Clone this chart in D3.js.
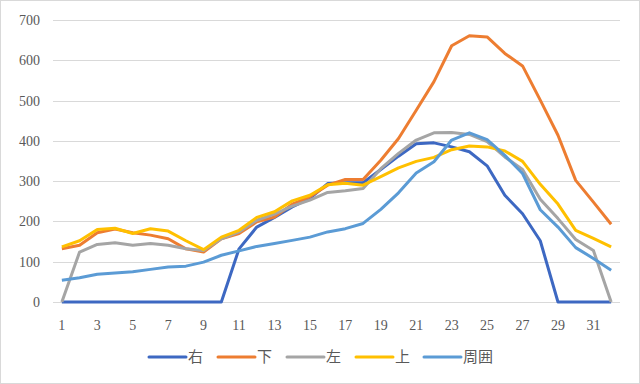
<!DOCTYPE html>
<html>
<head>
<meta charset="utf-8">
<script src="https://cdn.jsdelivr.net/npm/d3@7"></script>
<style>
  body { margin: 0; background: #fff; }
  svg text { font-family: "Liberation Serif", "DejaVu Serif", "Noto Sans CJK JP", serif; fill: #595959; }
</style>
</head>
<body>
<div id="the_chart"></div>
<script>
var days = d3.range(1, 33);
var migi =   [0,0,0,0,0,0,0,0,0,0,132,186,210,236,257,294,296,296,329,362,393,395,385,373,338,265,219,152,0,0,0,0];
var shita =  [132,141,172,181,172,166,157,132,124,157,170,199,211,243,261,290,304,304,352,406,476,547,636,661,658,617,586,501,414,302,248,193];
var hidari = [0,124,143,147,141,145,141,132,128,157,174,203,218,238,253,272,276,282,331,369,402,420,421,416,398,360,329,255,207,155,128,0];
var ue =     [137,152,180,183,170,182,176,152,130,161,178,210,224,251,265,291,295,290,311,333,349,359,378,387,385,375,349,292,243,178,158,137];
var shui =   [54,60,69,72,75,81,87,89,99,116,127,138,145,153,161,174,182,195,230,271,320,348,402,420,403,364,319,229,186,135,108,79];
var names = ["右", "下", "左", "上", "周囲"];
var colors = ["#3D68C2", "#ED7D31", "#A5A5A5", "#FFC000", "#5B9BD5"];
var yTicks = [0, 100, 200, 300, 400, 500, 600, 700];

var series = [migi, shita, hidari, ue, shui];

var w = 640, h = 384;
var svg = d3.select("#the_chart").append("svg")
  .attr("width", w)
  .attr("height", h);

svg.append("rect")
  .attr("x", 0.5).attr("y", 0.5)
  .attr("width", w - 1).attr("height", h - 1)
  .attr("fill", "#fff")
  .attr("stroke", "#d9d9d9");

var plotL = 53, plotR = 620, plotT = 20, plotB = 302;

var xscale = d3.scaleBand()
  .domain(days)
  .range([plotL, plotR]);

var yscale = d3.scaleLinear()
  .domain([0, 700])
  .range([plotB, plotT]);

// grid
svg.append("g")
  .selectAll("line")
  .data(yTicks)
  .enter().append("line")
  .attr("x1", plotL).attr("x2", plotR)
  .attr("y1", function (d) { return Math.round(yscale(d)) + 0.5; })
  .attr("y2", function (d) { return Math.round(yscale(d)) + 0.5; })
  .attr("stroke", "#d9d9d9")
  .attr("stroke-width", 1);

var yaxis = d3.axisLeft(yscale)
  .tickValues(yTicks)
  .tickSize(0)
  .tickPadding(13);

var gY = svg.append("g")
  .attr("transform", "translate(" + plotL + ",0)")
  .call(yaxis);
gY.select(".domain").remove();
gY.selectAll("text").style("font-size", "14px");

var xaxis = d3.axisBottom(xscale)
  .tickValues(days.filter(function (d) { return d % 2 == 1; }))
  .tickSize(0)
  .tickPadding(18);

var gX = svg.append("g")
  .attr("transform", "translate(0," + plotB + ")")
  .call(xaxis);
gX.select(".domain").remove();
gX.selectAll("text").style("font-size", "14px");

var line = d3.line()
  .x(function (d, i) { return xscale(days[i]) + xscale.bandwidth() / 2; })
  .y(function (d) { return yscale(d); });

svg.selectAll("path.series")
  .data(series)
  .enter().append("path")
  .attr("class", "series")
  .attr("d", line)
  .attr("fill", "none")
  .attr("stroke", function (d, i) { return colors[i]; })
  .attr("stroke-width", 3)
  .attr("stroke-linejoin", "round");

// legend
var legendX = [149, 218, 287, 356, 424];
var legend = svg.append("g");
names.forEach(function (n, i) {
  legend.append("line")
    .attr("x1", legendX[i]).attr("x2", legendX[i] + 37)
    .attr("y1", 357).attr("y2", 357)
    .attr("stroke", colors[i])
    .attr("stroke-width", 3)
    .attr("stroke-linecap", "round");
  legend.append("text")
    .attr("x", legendX[i] + 39)
    .attr("y", 362)
    .style("font-size", "15px")
    .text(n);
});
</script>
</body>
</html>
